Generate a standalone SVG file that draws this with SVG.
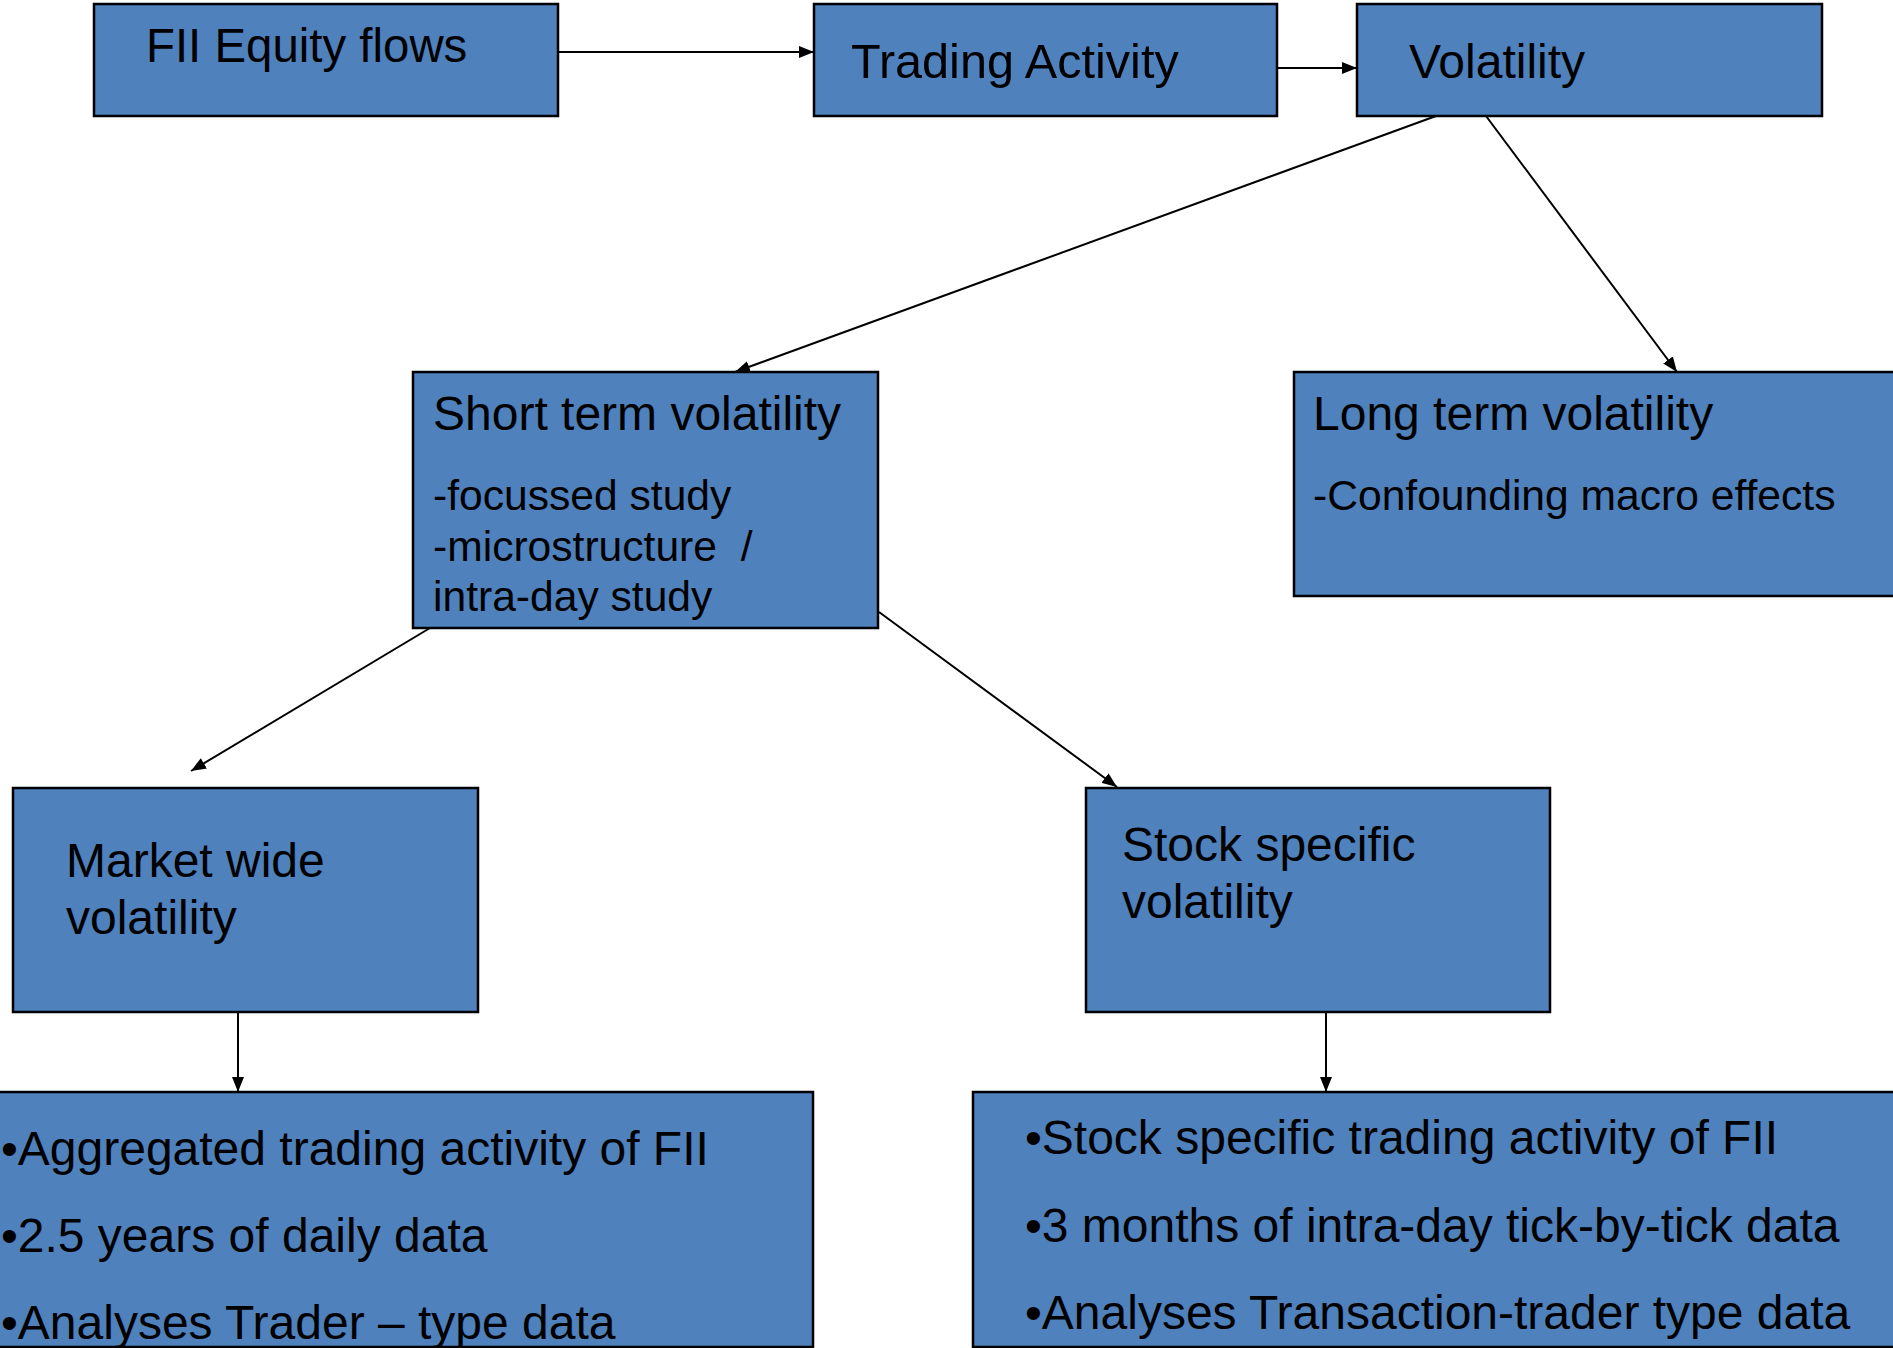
<svg xmlns="http://www.w3.org/2000/svg" width="1893" height="1348" viewBox="0 0 1893 1348">
<style>
.box{fill:#4F81BD;stroke:#000;stroke-width:2.5}
.t{font-family:"Liberation Sans",Arial,sans-serif;fill:#000}
.big{font-size:48px}
.sm{font-size:42.6px}
.conn{stroke:#000;stroke-width:2;fill:none;marker-end:url(#ah)}
</style>
<defs>
<marker id="ah" markerUnits="userSpaceOnUse" markerWidth="16" markerHeight="12" refX="15" refY="6" orient="auto" viewBox="0 0 16 12">
<path d="M0,0 L15,6 L0,12 z" fill="#000"/>
</marker>
</defs>
<rect width="1893" height="1348" fill="#fff"/>
<g id="connectors">
<line class="conn" x1="558" y1="52" x2="814" y2="52"/>
<line class="conn" x1="1277" y1="68" x2="1357" y2="68"/>
<line class="conn" x1="1436" y1="116" x2="735" y2="372"/>
<line class="conn" x1="1486" y1="116" x2="1677" y2="372"/>
<line class="conn" x1="430" y1="628" x2="191" y2="771"/>
<line class="conn" x1="879" y1="612" x2="1117" y2="787"/>
<line class="conn" x1="238" y1="1012" x2="238" y2="1092"/>
<line class="conn" x1="1326" y1="1012" x2="1326" y2="1092"/>
</g>
<g id="n-fii">
<rect class="box" x="94" y="4" width="464" height="112"/>
<text class="t" style="font-size:47.4px" x="146" y="62">FII Equity flows</text>
</g>
<g id="n-trading">
<rect class="box" x="814" y="4" width="463" height="112"/>
<text class="t" style="font-size:48.6px" x="851" y="78">Trading Activity</text>
</g>
<g id="n-volatility">
<rect class="box" x="1357" y="4" width="465" height="112"/>
<text class="t big" x="1409" y="78">Volatility</text>
</g>
<g id="n-short">
<rect class="box" x="413" y="372" width="465" height="256"/>
<text class="t big" x="433" y="430">Short term volatility</text>
<text class="t sm" x="433" y="510">-focussed study</text>
<text class="t sm" x="433" y="561" xml:space="preserve">-microstructure  /</text>
<text class="t sm" x="433" y="611">intra-day study</text>
</g>
<g id="n-long">
<rect class="box" x="1294" y="372" width="610" height="224"/>
<text class="t big" x="1313" y="430">Long term volatility</text>
<text class="t sm" x="1313" y="510">-Confounding macro effects</text>
</g>
<g id="n-market">
<rect class="box" x="13" y="788" width="465" height="224"/>
<text class="t big" x="66" y="877">Market wide</text>
<text class="t big" x="66" y="934">volatility</text>
</g>
<g id="n-stock">
<rect class="box" x="1086" y="788" width="464" height="224"/>
<text class="t big" x="1122" y="861">Stock specific</text>
<text class="t big" x="1122" y="918">volatility</text>
</g>
<g id="n-agg">
<rect class="box" x="-3" y="1092" width="816" height="255"/>
<text class="t big" x="1" y="1165">•Aggregated trading activity of FII</text>
<text class="t big" x="1" y="1252">•2.5 years of daily data</text>
<text class="t big" x="1" y="1339">•Analyses Trader – type data</text>
</g>
<g id="n-stockdata">
<rect class="box" x="973" y="1092" width="930" height="255"/>
<text class="t big" x="1025" y="1154">•Stock specific trading activity of FII</text>
<text class="t big" x="1025" y="1242">•3 months of intra-day tick-by-tick data</text>
<text class="t big" x="1025" y="1329">•Analyses Transaction-trader type data</text>
</g>
</svg>
